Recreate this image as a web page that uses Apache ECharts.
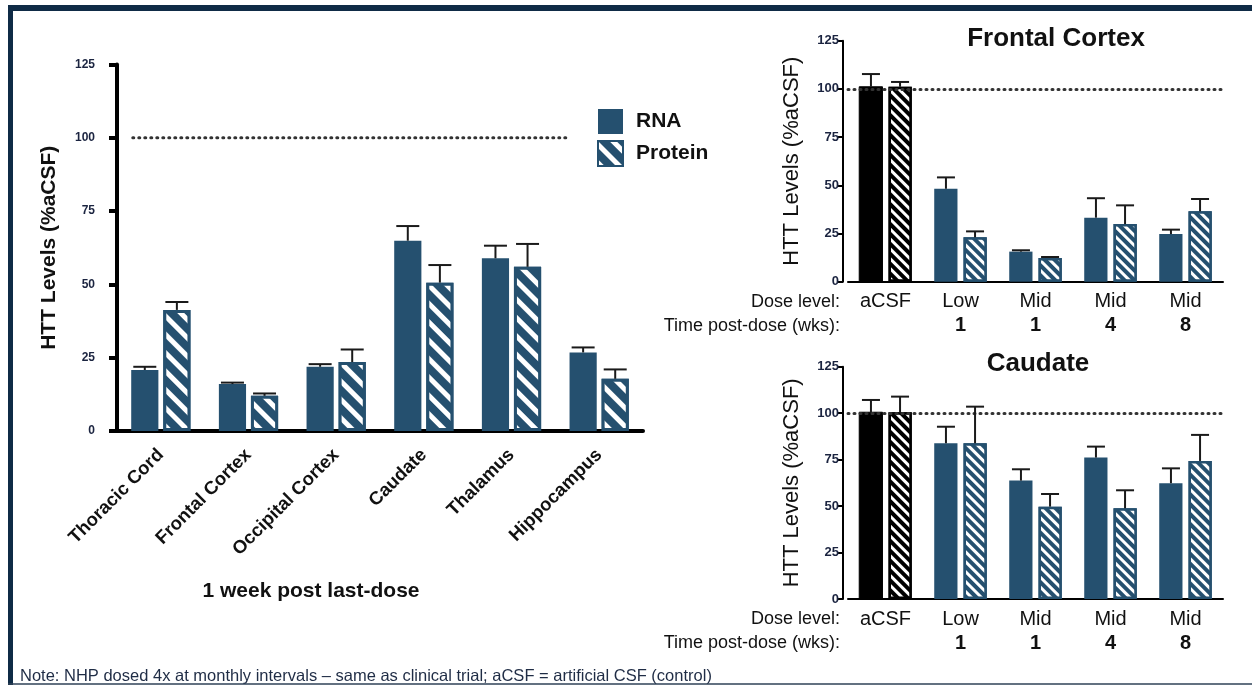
<!DOCTYPE html>
<html><head><meta charset="utf-8">
<script src="https://cdn.jsdelivr.net/npm/echarts/dist/echarts.min.js"></script>
<style>html,body{margin:0;padding:0;background:#fff}#c{width:1252px;height:686px}</style>
</head><body><div id="c"></div>
<script>
// ---- data ----
var regions = ['Thoracic Cord','Frontal Cortex','Occipital Cortex','Caudate','Thalamus','Hippocampus'];
var regionRNA = [20.8,16.0,21.9,64.9,58.9,26.8];
var regionRNAErr = [1.1,0.5,0.9,5.0,4.3,1.7];
var regionProtein = [41.3,12.0,23.5,50.6,56.0,17.8];
var regionProteinErr = [2.7,0.8,4.3,6.0,7.8,3.2];

var doseLevels = ['aCSF','Low','Mid','Mid','Mid'];
var weeksPost = ['','1','1','4','8'];

var fcRNA = [101.1,48.2,15.6,33.2,24.7];
var fcRNAErr = [6.6,5.9,0.7,10.1,2.3];
var fcProtein = [101.1,23.0,12.3,29.9,36.5];
var fcProteinErr = [2.5,3.1,0.5,9.7,6.4];

var caRNA = [100.5,83.8,63.7,76.1,62.3];
var caRNAErr = [6.6,8.9,6.1,5.9,8.0];
var caProtein = [100.5,83.8,49.7,48.8,74.3];
var caProteinErr = [8.4,19.7,6.8,9.7,14.0];

var refLevel = 100;
var leftRefSpan = [0.18, 5.13];

// ---- styling ----
var FONT = 'Liberation Sans, Arial, sans-serif';
var NAVY = '#25506f';
var INK = '#111';

function hatch(dy){
  return {symbol:'rect', symbolSize:1, color:'#ffffff', dashArrayX:[1,0], dashArrayY:dy, rotation:Math.PI/4};
}
function controlFirst(arr){
  return arr.map(function(v,i){ return i===0 ? {value:v, itemStyle:{color:'#000', borderColor:'#000'}} : v; });
}
function errData(vals, errs){ return vals.map(function(v,i){ return [i, v, errs[i]]; }); }
function errRender(offsetFrac, cap, lw){
  return function(params, api){
    var i = api.value(0), v = api.value(1), e = api.value(2);
    var base = api.coord([i, v]);
    var top = api.coord([i, v + e]);
    var band = api.size([1,0])[0];
    var x = base[0] + offsetFrac * band;
    var st = {stroke:'#1a1a1a', lineWidth:lw};
    return {type:'group', children:[
      {type:'line', shape:{x1:x, y1:base[1], x2:x, y2:top[1]}, style:st},
      {type:'line', shape:{x1:x-cap/2, y1:top[1], x2:x+cap/2, y2:top[1]}, style:st}
    ]};
  };
}

var chart = echarts.init(document.getElementById('c'), null, {renderer:'canvas'});

var rightXAxis = function(gi){
  return {gridIndex:gi, type:'category', data:doseLevels,
    axisLine:{lineStyle:{color:'#000', width:2}},
    axisTick:{alignWithLabel:true, length:6, lineStyle:{color:'#000', width:2}},
    axisLabel:{interval:0, margin:8, color:INK,
      formatter:function(v, idx){ return '{a|' + v + '}\n{b|' + (weeksPost[idx] || ' ') + '}'; },
      rich:{a:{fontSize:20, lineHeight:24, fontFamily:FONT, color:INK},
            b:{fontSize:20, lineHeight:24, fontWeight:'bold', fontFamily:FONT, color:INK}}}
  };
};
var rightYAxis = function(gi){
  return {gridIndex:gi, type:'value', min:0, max:125, interval:25, offset:5,
    axisLine:{show:true, lineStyle:{color:'#000', width:2}},
    axisTick:{show:true, length:5, lineStyle:{color:'#000', width:2}},
    splitLine:{show:false},
    axisLabel:{fontSize:13, fontWeight:'bold', color:'#1b2440', margin:4, fontFamily:'Liberation Sans Narrow, Liberation Sans, Arial, sans-serif'},
    name:'HTT Levels (%aCSF)', nameLocation:'middle', nameGap:40,
    nameTextStyle:{fontSize:22, color:INK, fontFamily:FONT}
  };
};

var dotted = {type:[1,5], color:'#333', width:3, cap:'round'};

var option = {
  animation:false,
  backgroundColor:'#fff',
  textStyle:{fontFamily:FONT},
  title:[
    {text:'Frontal Cortex', left:1051, top:21, textAlign:'center', textStyle:{fontSize:26, fontWeight:'bold', color:INK, fontFamily:FONT}},
    {text:'Caudate', left:1033, top:346, textAlign:'center', textStyle:{fontSize:26, fontWeight:'bold', color:INK, fontFamily:FONT}}
  ],
  legend:{data:['RNA','Protein'], orient:'vertical', left:597, top:109, itemWidth:25, itemHeight:25, itemGap:6,
    icon:'rect', padding:0,
    textStyle:{fontSize:21, fontWeight:'bold', color:INK, fontFamily:FONT, padding:[0,0,0,8]}},
  grid:[
    {left:117, top:64.5, width:526, height:366.5},
    {left:848, top:40.7, width:375, height:241},
    {left:848, top:366.7, width:375, height:232.3}
  ],
  xAxis:[
    {gridIndex:0, type:'category', data:regions,
      axisLine:{lineStyle:{color:'#000', width:4}},
      axisTick:{alignWithLabel:true, length:8, lineStyle:{color:'#000', width:4}},
      axisLabel:{interval:0, rotate:45, margin:21, fontSize:18.5, fontWeight:'bold', color:INK, fontFamily:FONT}},
    rightXAxis(1),
    rightXAxis(2),
    {gridIndex:0, type:'value', min:0, max:6, show:false}
  ],
  yAxis:[
    {gridIndex:0, type:'value', min:0, max:125, interval:25,
      axisLine:{show:true, lineStyle:{color:'#000', width:4}},
      axisTick:{show:true, length:8, lineStyle:{color:'#000', width:4}},
      splitLine:{show:false},
      axisLabel:{fontSize:12, fontWeight:'bold', color:'#1b2440', margin:22, padding:[0,0,16,0], fontFamily:FONT},
      name:'HTT Levels (%aCSF)', nameLocation:'middle', nameGap:57,
      nameTextStyle:{fontSize:21, fontWeight:'bold', color:INK, fontFamily:FONT}},
    rightYAxis(1),
    rightYAxis(2)
  ],
  series:[
    // left chart
    {name:'RNA', type:'bar', xAxisIndex:0, yAxisIndex:0, data:regionRNA, barWidth:'31%', barGap:'18%',
      itemStyle:{color:NAVY}},
    {name:'Protein', type:'bar', xAxisIndex:0, yAxisIndex:0, data:regionProtein, barWidth:'31%', barGap:'18%',
      itemStyle:{color:NAVY, borderColor:NAVY, borderWidth:3, decal:hatch([5,8])}},
    {type:'custom', xAxisIndex:0, yAxisIndex:0, data:errData(regionRNA, regionRNAErr), renderItem:errRender(-0.183, 23, 2), z:5, encode:{x:0,y:1}},
    {type:'custom', xAxisIndex:0, yAxisIndex:0, data:errData(regionProtein, regionProteinErr), renderItem:errRender(0.183, 23, 2), z:5, encode:{x:0,y:1}},
    {type:'line', xAxisIndex:3, yAxisIndex:0, data:[[leftRefSpan[0], refLevel],[leftRefSpan[1], refLevel]],
      symbol:'none', lineStyle:dotted, silent:true, z:1},
    // frontal cortex
    {name:'FC RNA', type:'bar', xAxisIndex:1, yAxisIndex:1, data:controlFirst(fcRNA), barWidth:'31%', barGap:'26%',
      itemStyle:{color:NAVY},
      markLine:{silent:true, symbol:'none', label:{show:false}, lineStyle:dotted, data:[{yAxis:refLevel}]}},
    {name:'FC Protein', type:'bar', xAxisIndex:1, yAxisIndex:1, data:controlFirst(fcProtein), barWidth:'31%', barGap:'26%',
      itemStyle:{color:NAVY, borderColor:NAVY, borderWidth:2.5, decal:hatch([3,4])}},
    {type:'custom', xAxisIndex:1, yAxisIndex:1, data:errData(fcRNA, fcRNAErr), renderItem:errRender(-0.194, 18, 2), z:5, encode:{x:0,y:1}},
    {type:'custom', xAxisIndex:1, yAxisIndex:1, data:errData(fcProtein, fcProteinErr), renderItem:errRender(0.194, 18, 2), z:5, encode:{x:0,y:1}},
    // caudate
    {name:'CA RNA', type:'bar', xAxisIndex:2, yAxisIndex:2, data:controlFirst(caRNA), barWidth:'31%', barGap:'26%',
      itemStyle:{color:NAVY},
      markLine:{silent:true, symbol:'none', label:{show:false}, lineStyle:dotted, data:[{yAxis:refLevel}]}},
    {name:'CA Protein', type:'bar', xAxisIndex:2, yAxisIndex:2, data:controlFirst(caProtein), barWidth:'31%', barGap:'26%',
      itemStyle:{color:NAVY, borderColor:NAVY, borderWidth:2.5, decal:hatch([3,4])}},
    {type:'custom', xAxisIndex:2, yAxisIndex:2, data:errData(caRNA, caRNAErr), renderItem:errRender(-0.194, 18, 2), z:5, encode:{x:0,y:1}},
    {type:'custom', xAxisIndex:2, yAxisIndex:2, data:errData(caProtein, caProteinErr), renderItem:errRender(0.194, 18, 2), z:5, encode:{x:0,y:1}}
  ],
  graphic:[
    {type:'rect', shape:{x:8, y:5, width:1244, height:6}, style:{fill:'#0f2b46'}, z:10},
    {type:'rect', shape:{x:8, y:5, width:5, height:680}, style:{fill:'#0f2b46'}, z:10},
    {type:'line', shape:{x1:8, y1:684, x2:1252, y2:684}, style:{stroke:'#2f4257', lineWidth:1.5}, z:10},
    {type:'text', x:311, y:591, style:{text:'1 week post last-dose', fontSize:21, fontWeight:'bold', fill:INK, fontFamily:FONT, align:'center', verticalAlign:'middle'}},
    {type:'text', x:840, y:302, style:{text:'Dose level:', fontSize:18, fill:INK, fontFamily:FONT, align:'right', verticalAlign:'middle'}},
    {type:'text', x:840, y:326, style:{text:'Time post-dose (wks):', fontSize:18, fill:INK, fontFamily:FONT, align:'right', verticalAlign:'middle'}},
    {type:'text', x:840, y:619, style:{text:'Dose level:', fontSize:18, fill:INK, fontFamily:FONT, align:'right', verticalAlign:'middle'}},
    {type:'text', x:840, y:643, style:{text:'Time post-dose (wks):', fontSize:18, fill:INK, fontFamily:FONT, align:'right', verticalAlign:'middle'}},
    {type:'text', x:20, y:676, style:{text:'Note: NHP dosed 4x at monthly intervals \u2013 same as clinical trial; aCSF = artificial CSF (control)', fontSize:16.5, fill:'#1f2c45', fontFamily:FONT, verticalAlign:'middle'}}
  ]
};
chart.setOption(option);
</script>
</body></html>
